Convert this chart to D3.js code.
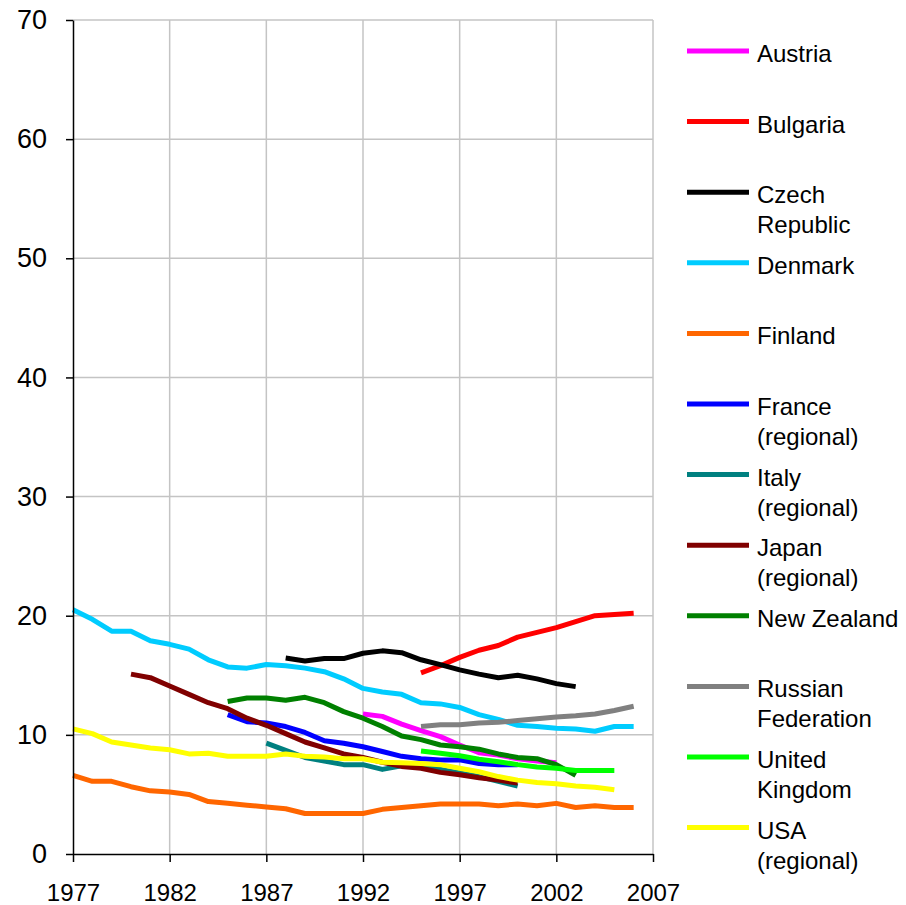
<!DOCTYPE html>
<html>
<head>
<meta charset="utf-8">
<script src="https://cdn.jsdelivr.net/npm/d3@7"></script>
<style>
  body { margin: 0; background: #fff; }
  text { font-family: "Liberation Sans", Arial, sans-serif; fill: #000; }
</style>
</head>
<body>
<div id="chart"></div>
<script>
// series, in legend order
let names = ["Austria", "Bulgaria", "Czech Republic", "Denmark", "Finland", "France (regional)",
    "Italy (regional)", "Japan (regional)", "New Zealand", "Russian Federation", "United Kingdom", "USA (regional)"];
let legendLines = [["Austria"], ["Bulgaria"], ["Czech", "Republic"], ["Denmark"], ["Finland"],
    ["France", "(regional)"], ["Italy", "(regional)"], ["Japan", "(regional)"], ["New Zealand"],
    ["Russian", "Federation"], ["United", "Kingdom"], ["USA", "(regional)"]];
let colors = ["#ff00ff", "#ff0000", "#000000", "#00ccff", "#ff6600", "#0000ff",
    "#008080", "#800000", "#008000", "#808080", "#00ff00", "#ffff00"];
let startYears = [1992, 1995, 1988, 1977, 1977, 1985, 1987, 1980, 1985, 1995, 1995, 1977];

let austria = [11.75, 11.55, 10.9, 10.35, 9.85, 9.15, 8.5, 8.3, 8.0, 7.8, 7.65];
let bulgaria = [15.2, 15.8, 16.5, 17.1, 17.5, 18.2, 18.6, 19.0, 19.5, 20.0, 20.1, 20.2];
let czech = [16.45, 16.2, 16.4, 16.4, 16.85, 17.05, 16.9, 16.3, 15.9, 15.45, 15.1, 14.8, 15.0, 14.7, 14.3, 14.05];
let denmark = [20.5, 19.7, 18.7, 18.7, 17.9, 17.6, 17.2, 16.3, 15.7, 15.6, 15.9, 15.8, 15.6, 15.3, 14.7,
    13.9, 13.6, 13.4, 12.7, 12.6, 12.3, 11.7, 11.3, 10.8, 10.7, 10.55, 10.5, 10.3, 10.7, 10.7];
let finland = [6.6, 6.1, 6.1, 5.65, 5.3, 5.2, 5.0, 4.4, 4.25, 4.1, 3.95, 3.8, 3.4, 3.4, 3.4,
    3.4, 3.75, 3.9, 4.05, 4.2, 4.2, 4.2, 4.05, 4.2, 4.05, 4.25, 3.9, 4.05, 3.9, 3.9];
let france = [11.7, 11.1, 11.0, 10.7, 10.2, 9.5, 9.3, 9.0, 8.6, 8.2, 8.0, 7.9, 7.9, 7.6, 7.5, 7.5];
let italy = [9.3, 8.7, 8.1, 7.8, 7.5, 7.5, 7.1, 7.4, 7.4, 7.1, 6.8, 6.5, 6.1, 5.7];
let japan = [15.1, 14.8, 14.1, 13.4, 12.7, 12.2, 11.4, 10.8, 10.1, 9.4, 8.9, 8.4,
    8.1, 7.7, 7.35, 7.2, 6.85, 6.65, 6.4, 6.2, 5.95];
let newZealand = [12.8, 13.1, 13.1, 12.9, 13.15, 12.7, 11.95, 11.4, 10.7, 9.9, 9.6, 9.15, 9.0, 8.8, 8.4, 8.1, 8.0, 7.5, 6.6];
let russia = [10.7, 10.85, 10.85, 11.0, 11.05, 11.2, 11.35, 11.5, 11.6, 11.75, 12.05, 12.4];
let uk = [8.65, 8.45, 8.25, 7.95, 7.75, 7.5, 7.3, 7.2, 7.0, 7.0, 7.0];
let usa = [10.5, 10.1, 9.4, 9.15, 8.9, 8.75, 8.4, 8.45, 8.2, 8.2, 8.2, 8.4, 8.2, 8.15, 8.0,
    8.0, 7.7, 7.65, 7.6, 7.5, 7.2, 6.9, 6.5, 6.2, 6.0, 5.9, 5.7, 5.6, 5.4];

let values = [austria, bulgaria, czech, denmark, finland, france, italy, japan, newZealand, russia, uk, usa];

let xTicks = [1977, 1982, 1987, 1992, 1997, 2002, 2007];
let yTicks = [0, 10, 20, 30, 40, 50, 60, 70];

let width = 906, height = 905;
let plot = { left: 73, right: 653, top: 20, bottom: 854 }; //px

let svg = d3.select("#chart")
    .append("svg")
    .attr("width", width)
    .attr("height", height);

let x = d3.scaleLinear().domain([1977, 2007]).range([plot.left, plot.right]);
let y = d3.scaleLinear().domain([0, 70]).range([plot.bottom, plot.top]);

// gridlines
svg.append("g")
    .selectAll("line.v")
    .data(xTicks.slice(1))
    .join("line")
    .attr("x1", d => x(d)).attr("x2", d => x(d))
    .attr("y1", plot.top).attr("y2", plot.bottom)
    .attr("stroke", "#c4c4c4").attr("stroke-width", 1.5);

svg.append("g")
    .selectAll("line.h")
    .data(yTicks.slice(1))
    .join("line")
    .attr("x1", plot.left).attr("x2", plot.right)
    .attr("y1", d => y(d)).attr("y2", d => y(d))
    .attr("stroke", "#c4c4c4").attr("stroke-width", 1.5);

// series
let line = d3.line()
    .x(d => x(d.year))
    .y(d => y(d.value));

values.forEach((vals, i) => {
    let pts = vals.map((v, k) => ({ year: startYears[i] + k, value: v }));
    svg.append("path")
        .datum(pts)
        .attr("fill", "none")
        .attr("stroke", colors[i])
        .attr("stroke-width", 5)
        .attr("stroke-linejoin", "round")
        .attr("d", line);
});

/*---------------
 // axes
 ----------------*/
let xAxis = d3.axisBottom(x)
    .tickValues(xTicks)
    .tickFormat(d3.format("d"))
    .tickSize(8)
    .tickSizeOuter(0);

let gx = svg.append("g")
    .attr("transform", "translate(0," + plot.bottom + ")")
    .call(xAxis);
gx.select(".domain").attr("stroke", "#000").attr("stroke-width", 1.5);
gx.selectAll(".tick line").attr("stroke", "#000").attr("stroke-width", 1.5);
gx.selectAll(".tick text")
    .attr("y", 0)
    .attr("dy", "47px")
    .style("font-size", "24px")
    .style("font-family", "'Liberation Sans', Arial, sans-serif");

let yAxis = d3.axisLeft(y)
    .tickValues(yTicks)
    .tickSize(7)
    .tickSizeOuter(0);

let gy = svg.append("g")
    .attr("transform", "translate(" + plot.left + ",0)")
    .call(yAxis);
gy.select(".domain").attr("stroke", "#000").attr("stroke-width", 1.5);
gy.selectAll(".tick line").attr("stroke", "#000").attr("stroke-width", 1.5);
gy.selectAll(".tick text")
    .attr("x", -26)
    .style("font-size", "27px")
    .style("font-family", "'Liberation Sans', Arial, sans-serif");

/*---------------
 // legend
 ----------------*/
let legend = svg.append("g").attr("transform", "translate(687,51)");
let step = 70.6;

legendLines.forEach((lines, i) => {
    let g = legend.append("g").attr("transform", "translate(0," + (i * step) + ")");
    g.append("line")
        .attr("x1", 0).attr("x2", 62)
        .attr("y1", 0).attr("y2", 0)
        .attr("stroke", colors[i])
        .attr("stroke-width", 5);
    let t = g.append("text")
        .attr("x", 70)
        .attr("y", 11)
        .style("font-size", "24px");
    lines.forEach((s, k) => {
        t.append("tspan")
            .attr("x", 70)
            .attr("dy", k == 0 ? 0 : 30)
            .text(s);
    });
});
</script>
</body>
</html>
